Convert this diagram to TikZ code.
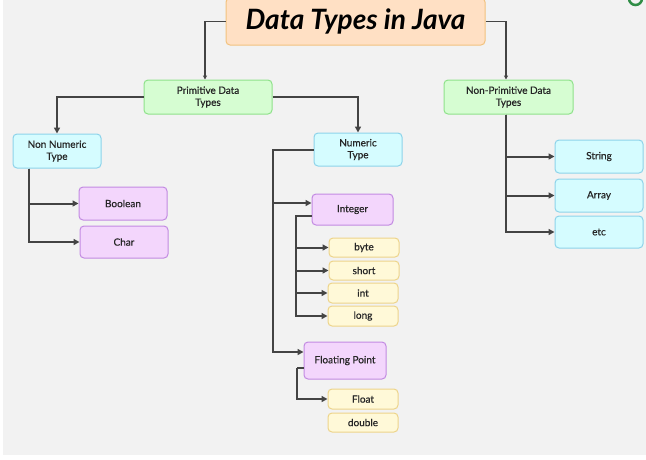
\documentclass[tikz,border=0pt]{standalone}
\usepackage{fontspec}
\setmainfont{Lato}
\newfontfamily\boxfont{Lato}[FakeBold=0.5]
\usepackage{tikz}
\usetikzlibrary{arrows.meta}
\usepackage{xcolor}

\definecolor{bgGray}{HTML}{F2F2F2}
\definecolor{lineGray}{HTML}{444444}
\definecolor{peachFill}{HTML}{FFE0C4}
\definecolor{peachLine}{HTML}{F2C27E}
\definecolor{greenFill}{HTML}{D6FDD2}
\definecolor{greenLine}{HTML}{8FE28A}
\definecolor{cyanFill}{HTML}{D5FCFF}
\definecolor{cyanLine}{HTML}{8DD3EA}
\definecolor{purpleFill}{HTML}{F3D6FC}
\definecolor{purpleLine}{HTML}{C28AE2}
\definecolor{yellowFill}{HTML}{FFF9D8}
\definecolor{yellowLine}{HTML}{EDD48A}
\definecolor{gfgGreen}{HTML}{2F8D46}

\tikzset{
  box/.style={draw, rounded corners=4pt, line width=1pt, align=center,
    font=\boxfont\fontsize{10}{12}\selectfont, inner sep=0pt, text=black!85},
  titlebox/.style={box, fill=peachFill, draw=peachLine, text=black,
    font=\fontsize{28}{30}\selectfont\bfseries\itshape},
  greenbox/.style={box, fill=greenFill, draw=greenLine},
  cyanbox/.style={box, fill=cyanFill, draw=cyanLine},
  purplebox/.style={box, fill=purpleFill, draw=purpleLine},
  yellowbox/.style={box, fill=yellowFill, draw=yellowLine},
  conn/.style={draw=lineGray, line width=2pt, -{Triangle[length=6pt,width=6pt]}},
  link/.style={draw=lineGray, line width=2pt}
}

\begin{document}
\begin{tikzpicture}[x=1pt,y=-1pt]
	\useasboundingbox (0,0) rectangle (646,459);
	\fill[bgGray] (3,0) rectangle (646,455);
	% logo piece in the corner
	\draw[gfgGreen, line width=2.5pt] (635.5,-1.5) circle (6.5pt);

	% top levels
	\node[titlebox, minimum width=259pt, minimum height=47pt] (title) at (355.5,21.5) {Data Types in Java};
	\node[greenbox, minimum width=128pt, minimum height=34pt] (prim) at (208,97) {Primitive Data\\Types};
	\node[greenbox, minimum width=129pt, minimum height=34pt] (nonprim) at (508.5,97) {Non-Primitive Data\\Types};

	% primitive side
	\node[cyanbox, minimum width=88pt, minimum height=34pt] (nonnum) at (57,151) {Non Numeric\\Type};
	\node[cyanbox, minimum width=88pt, minimum height=33pt] (num) at (358,149.5) {Numeric\\Type};
	\node[purplebox, minimum width=88pt, minimum height=33pt] (bool) at (123,203.5) {Boolean};
	\node[purplebox, minimum width=88pt, minimum height=32pt] (char) at (124,242) {Char};
	\node[purplebox, minimum width=81pt, minimum height=31pt] (integer) at (352.5,209.5) {Integer};
	\node[yellowbox, minimum width=70pt, minimum height=19pt] (byte) at (364,247.5) {byte};
	\node[yellowbox, minimum width=70pt, minimum height=19pt] (short) at (364,270.5) {short};
	\node[yellowbox, minimum width=70pt, minimum height=20pt] (int) at (363,293) {int};
	\node[yellowbox, minimum width=70pt, minimum height=20pt] (long) at (363,316) {long};
	\node[purplebox, minimum width=82pt, minimum height=37pt] (floatpt) at (345,360.5) {Floating Point};
	\node[yellowbox, minimum width=70pt, minimum height=20pt] (float) at (363,399) {Float};
	\node[yellowbox, minimum width=70pt, minimum height=19pt] (double) at (363,422.5) {double};

	% non-primitive side
	\node[cyanbox, minimum width=88pt, minimum height=33pt] (string) at (599,156.5) {String};
	\node[cyanbox, minimum width=88pt, minimum height=33pt] (array) at (599,195.5) {Array};
	\node[cyanbox, minimum width=88pt, minimum height=32pt] (etc) at (599,232) {etc};

	% connectors
	\draw[conn, line width=1.4pt, -{Triangle[length=4pt,width=4pt]}] (title.west) -| ([xshift=-3pt]prim.north);
	\draw[conn, line width=1.4pt, -{Triangle[length=4pt,width=4pt]}] (title.east) -| ([xshift=-2.5pt]nonprim.north);
	\draw[conn] (prim.west) -| (nonnum.north);
	\draw[conn] (prim.east) -| (num.north);

	\draw[link] ([xshift=-28pt]nonnum.south) -- ([xshift=-28pt]nonnum.south |- char.west);
	\draw[conn] ([xshift=-28pt]nonnum.south) |- (bool.west);
	\draw[conn] ([xshift=-28pt]nonnum.south) |- (char.west);

	\draw[link] (num.west) -- ++(-41,0) coordinate (numtrunk) -- (numtrunk |- 0,352);
	\draw[conn] (numtrunk) |- ([yshift=6.5pt]integer.west);
	\draw[conn] (numtrunk) |- ([yshift=8.5pt]floatpt.west);

	\draw[link] ([yshift=-6.5pt]integer.west) -- ++(-15.5,0) coordinate (inttrunk) -- (inttrunk |- long.west);
	\draw[conn] (inttrunk) |- (byte.west);
	\draw[conn] (inttrunk) |- (short.west);
	\draw[conn] (inttrunk) |- (int.west);
	\draw[conn] (inttrunk) |- (long.west);

	\draw[link] ([yshift=-7.5pt]floatpt.west) -- ++(-7,0) coordinate (flttrunk);
	\draw[conn] (flttrunk) |- (float.west);

	\draw[link] ([xshift=-2.5pt]nonprim.south) -- ([xshift=-2.5pt]nonprim.south |- etc.west);
	\draw[conn] ([xshift=-2.5pt]nonprim.south) |- (string.west);
	\draw[conn] ([xshift=-2.5pt]nonprim.south) |- (array.west);
	\draw[conn] ([xshift=-2.5pt]nonprim.south) |- (etc.west);
\end{tikzpicture}
\end{document}
